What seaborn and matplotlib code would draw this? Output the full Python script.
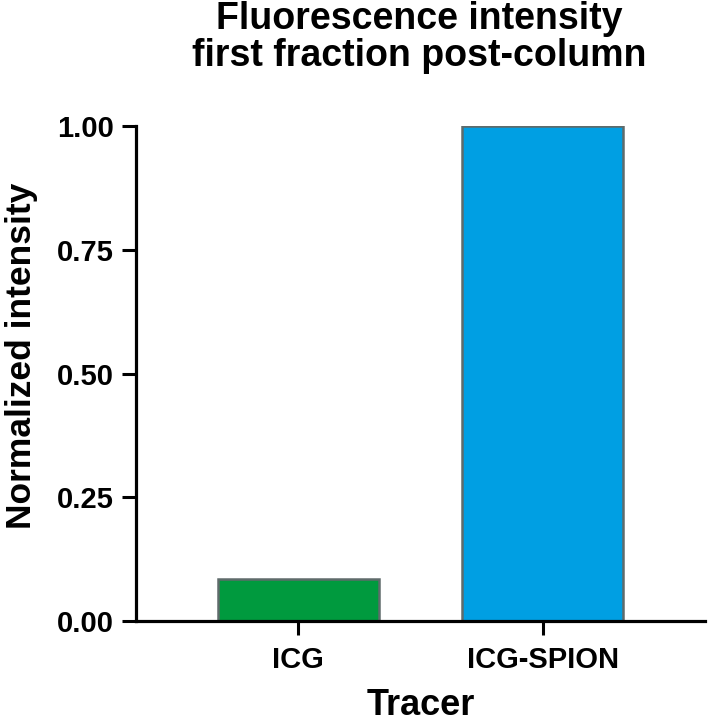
import pandas as pd
import matplotlib.pyplot as plt
import seaborn as sns

tracers = ["ICG", "ICG-SPION"]
intensity = [0.085, 1.0]
bar_colors = ["#009a3e", "#009fe3"]

sns.set_theme(style="ticks")
plt.rcParams['font.family'] = ['Liberation Sans', 'DejaVu Sans']
plt.rcParams['text.color'] = 'black'
plt.rcParams['axes.labelcolor'] = 'black'

df = pd.DataFrame({"Tracer": tracers, "Normalized intensity": intensity})

fig = plt.figure(figsize=(7.11, 7.24), dpi=100)
ax = fig.add_axes([0.191, 0.142, 0.801, 0.684])

sns.barplot(data=df, x="Tracer", y="Normalized intensity", hue="Tracer",
            palette=bar_colors, width=0.66, edgecolor="#5f6b6b", linewidth=1.8,
            saturation=1, legend=False, ax=ax)

ax.set_xlim(-0.665, 1.665)
ax.set_ylim(0, 1.0)
ax.set_yticks([0, 0.25, 0.5, 0.75, 1.0])
ax.set_yticklabels(["0.00", "0.25", "0.50", "0.75", "1.00"])

for s in ["top", "right"]:
    ax.spines[s].set_visible(False)
for s in ["left", "bottom"]:
    ax.spines[s].set_linewidth(2.3)
    ax.spines[s].set_color("black")
ax.tick_params(axis="both", width=2.2, length=10, labelsize=21, colors="black", pad=6)
ax.tick_params(axis="x", pad=8)
for lbl in ax.get_xticklabels() + ax.get_yticklabels():
    lbl.set_fontweight("bold")

ax.set_xlabel("Tracer", fontsize=26, fontweight="bold", labelpad=10)
ax.set_ylabel("Normalized intensity", fontsize=25.5, fontweight="bold")
ax.yaxis.set_label_coords(-0.172, 0.535)

fig.text(419 / 711, 0.998, "Fluorescence intensity\nfirst fraction post-column",
         fontsize=27, fontweight="bold", ha="center", va="top",
         multialignment="center", linespacing=1.02)

fig.savefig("out.png", dpi=100)
